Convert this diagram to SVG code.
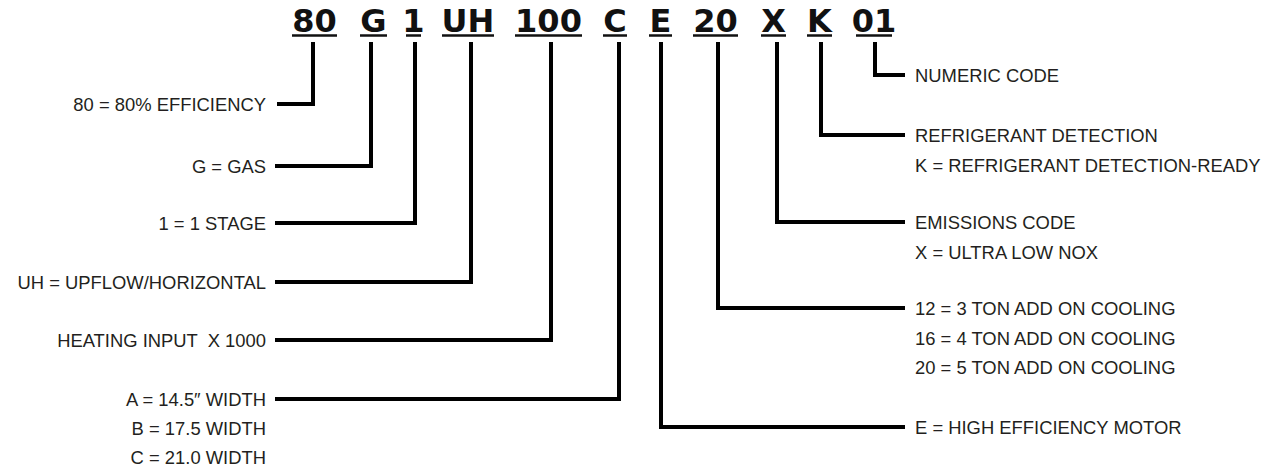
<svg xmlns="http://www.w3.org/2000/svg" width="1273" height="471" viewBox="0 0 1273 471">
<style>
.code{font-family:"DejaVu Sans",sans-serif;font-weight:bold;font-size:32px;fill:#111;text-anchor:middle}
.ul{stroke:#111;stroke-width:2.5}
.lbl{font-family:"Liberation Sans",Arial,sans-serif;font-size:18.4px;fill:#231f20}
.l{text-anchor:end}
.conn path{fill:none;stroke:#000;stroke-width:4;stroke-linejoin:miter}
</style>
<rect width="1273" height="471" fill="#fff"/>
<g id="code-80"><text class="code" x="314.5" y="32">80</text><line class="ul" x1="292" y1="35.5" x2="337" y2="35.5"/></g>
<g id="code-G"><text class="code" x="373.5" y="32">G</text><line class="ul" x1="360" y1="35.5" x2="387" y2="35.5"/></g>
<g id="code-1"><text class="code" x="413.5" y="32">1</text><line class="ul" x1="406" y1="35.5" x2="421" y2="35.5"/></g>
<g id="code-UH"><text class="code" x="468" y="32">UH</text><line class="ul" x1="442" y1="35.5" x2="494" y2="35.5"/></g>
<g id="code-100"><text class="code" x="548.5" y="32">100</text><line class="ul" x1="515" y1="35.5" x2="582" y2="35.5"/></g>
<g id="code-C"><text class="code" x="615" y="32">C</text><line class="ul" x1="603" y1="35.5" x2="627" y2="35.5"/></g>
<g id="code-E"><text class="code" x="660.5" y="32">E</text><line class="ul" x1="649" y1="35.5" x2="672" y2="35.5"/></g>
<g id="code-20"><text class="code" x="715.5" y="32">20</text><line class="ul" x1="693" y1="35.5" x2="738" y2="35.5"/></g>
<g id="code-X"><text class="code" x="773.5" y="32">X</text><line class="ul" x1="761" y1="35.5" x2="786" y2="35.5"/></g>
<g id="code-K"><text class="code" x="819.5" y="32">K</text><line class="ul" x1="807" y1="35.5" x2="832" y2="35.5"/></g>
<g id="code-01"><text class="code" x="874" y="32">01</text><line class="ul" x1="856" y1="35.5" x2="892" y2="35.5"/></g>

<g id="connectors" class="conn">
<path d="M313,42 V104 H277"/>
<path d="M371,42 V166 H275"/>
<path d="M415,42 V223 H275"/>
<path d="M471,42 V282 H275"/>
<path d="M551,42 V340 H275"/>
<path d="M619,42 V399 H275"/>
<path d="M661,42 V427 H905"/>
<path d="M718,42 V308 H905"/>
<path d="M777,42 V222 H905"/>
<path d="M821,42 V135 H905"/>
<path d="M875,42 V75 H905"/>
</g>

<g id="label-80"><text class="lbl l" x="266" y="110.5">80 = 80% EFFICIENCY</text></g>
<g id="label-G"><text class="lbl l" x="266" y="172.5">G = GAS</text></g>
<g id="label-1"><text class="lbl l" x="266" y="229.5">1 = 1 STAGE</text></g>
<g id="label-UH"><text class="lbl l" x="266" y="288.5">UH = UPFLOW/HORIZONTAL</text></g>
<g id="label-100"><text class="lbl l" x="266" y="346.5" xml:space="preserve">HEATING INPUT  X 1000</text></g>
<g id="label-C">
<text class="lbl l" x="266" y="405.5">A = 14.5″ WIDTH</text>
<text class="lbl l" x="266" y="434.5">B = 17.5 WIDTH</text>
<text class="lbl l" x="266" y="463.5">C = 21.0 WIDTH</text>
</g>
<g id="label-01"><text class="lbl" x="915" y="81.5">NUMERIC CODE</text></g>
<g id="label-K">
<text class="lbl" x="915" y="141.5">REFRIGERANT DETECTION</text>
<text class="lbl" x="915" y="171.5">K = REFRIGERANT DETECTION-READY</text>
</g>
<g id="label-X">
<text class="lbl" x="915" y="228.5">EMISSIONS CODE</text>
<text class="lbl" x="915" y="258.5">X = ULTRA LOW NOX</text>
</g>
<g id="label-20">
<text class="lbl" x="915" y="314.5">12 = 3 TON ADD ON COOLING</text>
<text class="lbl" x="915" y="344.5">16 = 4 TON ADD ON COOLING</text>
<text class="lbl" x="915" y="373.5">20 = 5 TON ADD ON COOLING</text>
</g>
<g id="label-E"><text class="lbl" x="915" y="433.5">E = HIGH EFFICIENCY MOTOR</text></g>
</svg>
